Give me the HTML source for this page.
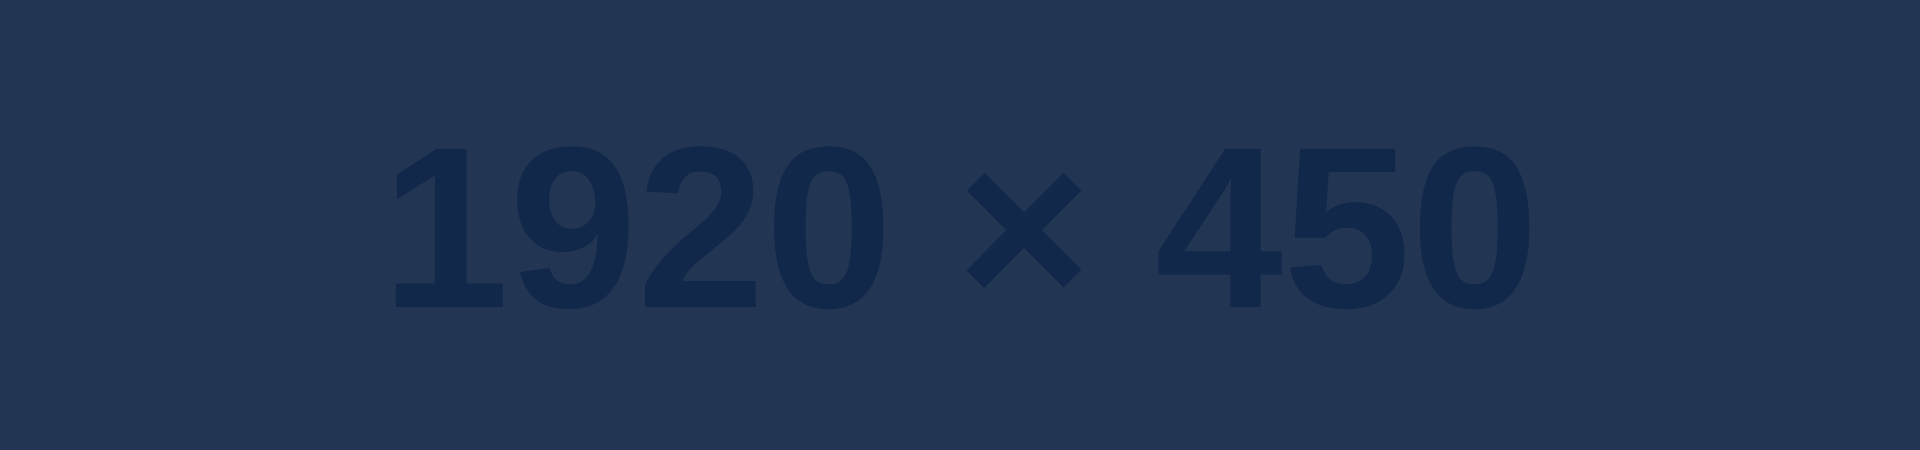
<!DOCTYPE html>
<html>
<head>
<meta charset="utf-8">
<style>
  html, body { margin:0; padding:0; }
  body { width:1920px; height:450px; background:#223654; overflow:hidden; position:relative; }
  .label {
    position:absolute; left:0; width:1920px; top:113px;
    text-align:center;
    font-family:"Liberation Sans", sans-serif; font-weight:bold;
    font-size:230px; line-height:230px; color:#12284a;
    white-space:pre;
  }
</style>
</head>
<body>
  <div class="label">1920 × 450</div>
</body>
</html>
